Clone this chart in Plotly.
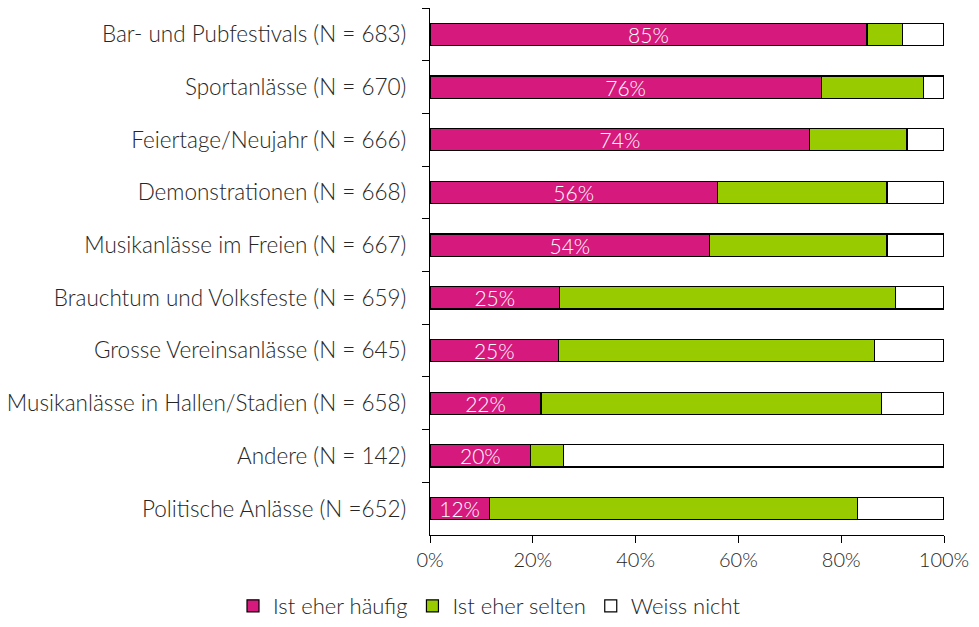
import plotly.graph_objects as go

categories = [
    "Bar- und Pubfestivals (N = 683)",
    "Sportanlässe (N = 670)",
    "Feiertage/Neujahr (N = 666)",
    "Demonstrationen (N = 668)",
    "Musikanlässe im Freien (N = 667)",
    "Brauchtum und Volksfeste (N = 659)",
    "Grosse Vereinsanlässe (N = 645)",
    "Musikanlässe in Hallen/Stadien (N = 658)",
    "Andere (N = 142)",
    "Politische Anlässe (N =652)",
]
haeufig = [85.0, 76.1, 73.9, 55.9, 54.4, 25.2, 25.0, 21.6, 19.6, 11.5]
selten = [7.0, 19.9, 18.9, 33.0, 34.5, 65.3, 61.5, 66.3, 6.3, 71.7]
weiss_nicht = [8.0, 4.0, 7.2, 11.1, 11.1, 9.5, 13.5, 12.1, 74.1, 16.8]
labels = [f"{round(v)}%" for v in haeufig]
x_ticks = [0, 20, 40, 60, 80, 100]
x_ticklabels = ["0%", "20%", "40%", "60%", "80%", "100%"]

FONT = "Lato"
W = 300
TXT = "#262626"
fig = go.Figure()
fig.add_trace(go.Bar(
    y=categories, x=haeufig, orientation="h", name="Ist eher häufig",
    marker=dict(color="#D6197D", line=dict(color="#000000", width=1.2)),
    text=labels, textposition="inside", insidetextanchor="middle",
    textangle=0, constraintext="none", cliponaxis=False,
    textfont=dict(color="#FFFFFF", size=21, family=FONT, weight=W),
    hoverinfo="skip",
))
fig.add_trace(go.Bar(
    y=categories, x=selten, orientation="h", name="Ist eher selten",
    marker=dict(color="#99CC00", line=dict(color="#000000", width=1.2)),
    hoverinfo="skip",
))
fig.add_trace(go.Bar(
    y=categories, x=weiss_nicht, orientation="h", name="Weiss nicht",
    marker=dict(color="#FFFFFF", line=dict(color="#000000", width=1.2)),
    hoverinfo="skip",
))

fig.update_layout(
    width=979, height=627,
    barmode="stack", bargap=0.58,
    margin=dict(l=430, r=35, t=8, b=92, autoexpand=False),
    paper_bgcolor="white", plot_bgcolor="white",
    font=dict(family=FONT, size=21, color=TXT, weight=W),
    showlegend=True,
    legend=dict(orientation="h", xref="container", x=0.5, xanchor="center",
                yref="container", y=-0.007, yanchor="bottom",
                font=dict(size=22, family=FONT, color=TXT, weight=W),
                itemwidth=30, traceorder="normal"),
)
fig.update_xaxes(
    range=[0, 100], tickvals=x_ticks, ticktext=x_ticklabels,
    showgrid=False, zeroline=False, showline=True, linecolor="#000000",
    linewidth=1.2, ticks="outside", ticklen=7, tickcolor="#000000",
    tickfont=dict(size=20, family=FONT, color=TXT, weight=W), automargin=False,
)
fig.update_yaxes(
    categoryorder="array", categoryarray=categories, autorange="reversed",
    showgrid=False, showline=True, linecolor="#000000", linewidth=1.2,
    ticks="outside", ticklen=7, tickcolor="#000000", tickson="boundaries",
    tickfont=dict(size=22.5, family=FONT, color=TXT, weight=W),
    ticklabelstandoff=18, automargin=False,
)

fig.write_html("out.html", config={"displayModeBar": False},
               post_script="document.body.style.margin='0px';")
